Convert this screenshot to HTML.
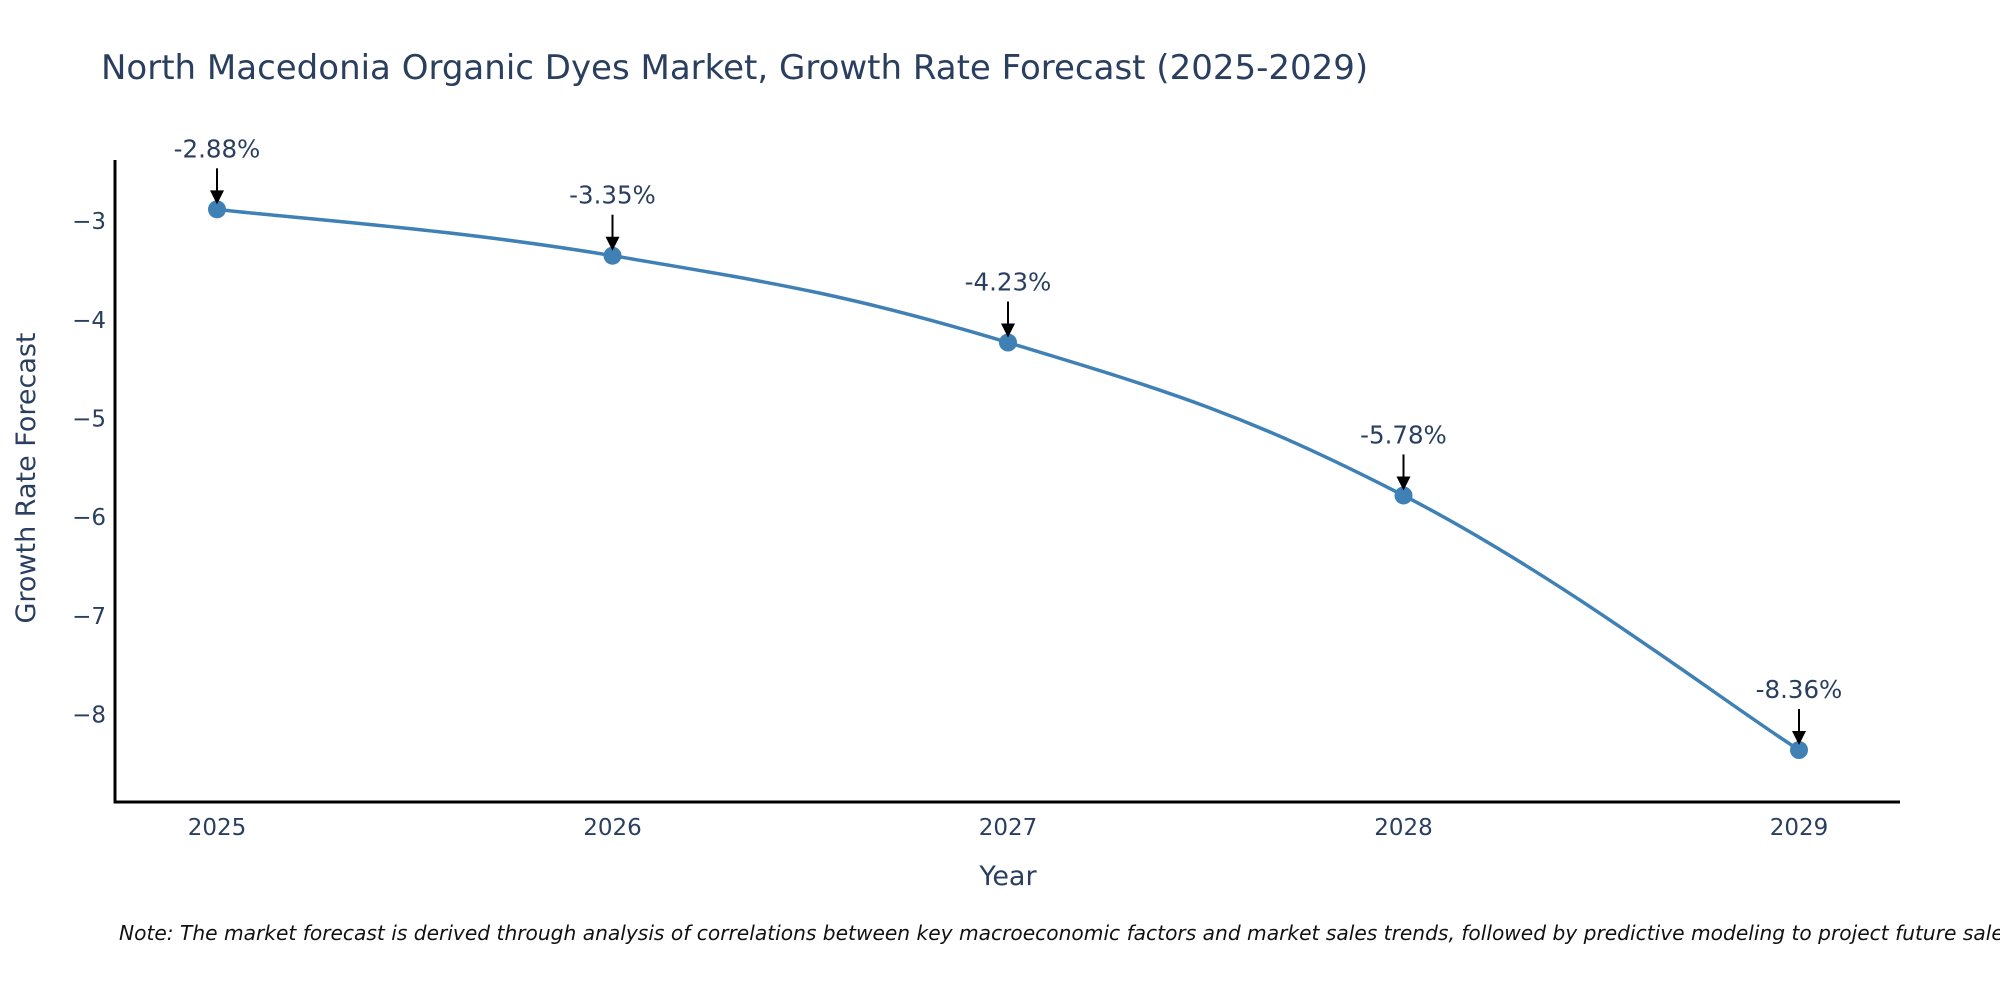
<!DOCTYPE html>
<html><head><meta charset="utf-8"><style>
body{margin:0;background:#fff;}
svg text{font-family:"DejaVu Sans","Liberation Sans",sans-serif;fill:#2a3f5f;}
</style></head><body>
<svg width="2000" height="1000" xmlns="http://www.w3.org/2000/svg">
<text x="101" y="79" font-size="34">North Macedonia Organic Dyes Market, Growth Rate Forecast (2025-2029)</text>
<g id="plot"></g>
<text x="0" y="0" font-size="27" text-anchor="middle" transform="translate(35,478) rotate(-90)">Growth Rate Forecast</text>
<text x="1008" y="885" font-size="27" text-anchor="middle">Year</text>
<text x="119" y="940" font-size="20.2" font-style="italic" style="fill:#111">Note: The market forecast is derived through analysis of correlations between key macroeconomic factors and market sales trends, followed by predictive modeling to project future sales.</text>
</svg>
<script>
const years=[2025,2026,2027,2028,2029];
const values=[-2.88,-3.35,-4.23,-5.78,-8.36];
const yTicks=[-3,-4,-5,-6,-7,-8];
const NS="http://www.w3.org/2000/svg";
const g=document.getElementById('plot');
const X0=115,X1=1900,Y0=160,Y1=802;
const xS=v=>217+(v-2025)*395.5;
const yS=v=>Y0+(-2.38-v)/(-2.38+8.887)*(Y1-Y0);
function el(t,a){const e=document.createElementNS(NS,t);for(const k in a)e.setAttribute(k,a[k]);g.appendChild(e);return e;}
let ax=el('path',{d:`M${X0},${Y0}V${Y1}H${X1}`,stroke:'#000','stroke-width':3,fill:'none'});


yTicks.forEach(t=>{const e=el('text',{x:106,y:yS(t)+8,'font-size':23,'text-anchor':'end'});e.textContent='\u2212'+Math.abs(t);

});
years.forEach(y=>{const e=el('text',{x:xS(y),y:835,'font-size':23,'text-anchor':'middle'});e.textContent=y;

});
const pts=years.map((y,i)=>[xS(y),yS(values[i])]);
let d=`M${pts[0][0]},${pts[0][1]}`;const s=0.2;
for(let i=0;i<pts.length-1;i++){const p0=pts[i-1]||pts[i],p1=pts[i],p2=pts[i+1],p3=pts[i+2]||p2;
d+=`C${p1[0]+(p2[0]-p0[0])*s},${p1[1]+(p2[1]-p0[1])*s} ${p2[0]-(p3[0]-p1[0])*s},${p2[1]-(p3[1]-p1[1])*s} ${p2[0]},${p2[1]}`;}
let ln=el('path',{d,stroke:'#3f80b5','stroke-width':3.5,fill:'none'});


pts.forEach((p,i)=>{const c=el('circle',{cx:p[0],cy:p[1],r:9,fill:'#3f80b5'});


const a=el('path',{d:`M${p[0]},${p[1]-41}V${p[1]-18}`,stroke:'#000','stroke-width':2});


const h=el('path',{d:`M${p[0]-7},${p[1]-19}L${p[0]+7},${p[1]-19}L${p[0]},${p[1]-5}Z`,fill:'#000'});


const t=el('text',{x:p[0],y:p[1]-52,'font-size':24.5,'text-anchor':'middle'});t.textContent=values[i].toFixed(2)+'%';

});
</script>
</body></html>
